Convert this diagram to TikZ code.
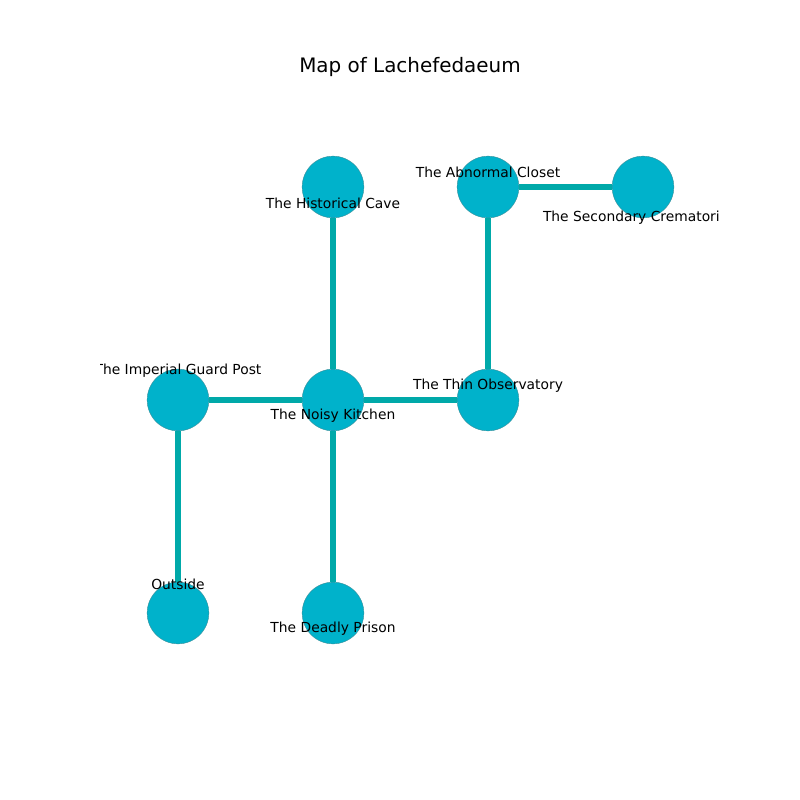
\documentclass[tikz,border=0pt]{standalone}
\usepackage{fontspec}
\setmainfont{DejaVu Sans}
\definecolor{roomfill}{HTML}{00B2CB}
\definecolor{roomedge}{HTML}{3A8F9A}
\definecolor{corridor}{HTML}{00A9A9}
\begin{document}
\begin{tikzpicture}[x=0.0254cm,y=-0.0254cm,font=\fontsize{10}{12}\selectfont,
    room/.style={circle,fill=roomfill,draw=roomedge,line width=0.3pt,minimum size=44.6pt,inner sep=0pt},
    corr/.style={corridor,line width=4.2pt},
    roomlabel/.style={inner sep=0pt,text=black}]

            \useasboundingbox (0,0) rectangle (800,800);

            % title
            \node [font=\fontsize{14.4}{17}\selectfont] (title) at (410,67) {Map of Lachefedaeum};

            % rooms
            \node [room] (cave) at (333,187) {};
            \node [room] (closet) at (488,187) {};
            \node [room] (cremat) at (643,187) {};
            \node [room] (guard) at (178,400) {};
            \node [room] (kitchen) at (333,400) {};
            \node [room] (observ) at (488,400) {};
            \node [room] (outside) at (178,613) {};
            \node [room] (prison) at (333,613) {};

            % corridors
            \draw[corr] (cave) -- (kitchen);
            \draw[corr] (closet) -- (cremat);
            \draw[corr] (closet) -- (observ);
            \draw[corr] (guard) -- (kitchen);
            \draw[corr] (kitchen) -- (observ);
            \draw[corr] (guard) -- (outside);
            \draw[corr] (kitchen) -- (prison);

            % room labels
            \begin{scope}
            \clip (100,96) rectangle (720,704);
            \node [roomlabel] (cave-l) at (333,203) {The Historical Cave};
            \node [roomlabel] (closet-l) at (488,172) {The Abnormal Closet};
            \node [roomlabel,anchor=east] (cremat-l) at (720,218) {The Secondary Crematori};
            \node [roomlabel] (guard-l) at (178,371) {The Imperial Guard Post};
            \node [roomlabel] (kitchen-l) at (333,416) {The Noisy Kitchen};
            \node [roomlabel] (observ-l) at (488,386) {The Thin Observatory};
            \node [roomlabel] (outside-l) at (178,584) {Outside};
            \node [roomlabel] (prison-l) at (333,629) {The Deadly Prison};
            \end{scope}

\end{tikzpicture}
\end{document}
